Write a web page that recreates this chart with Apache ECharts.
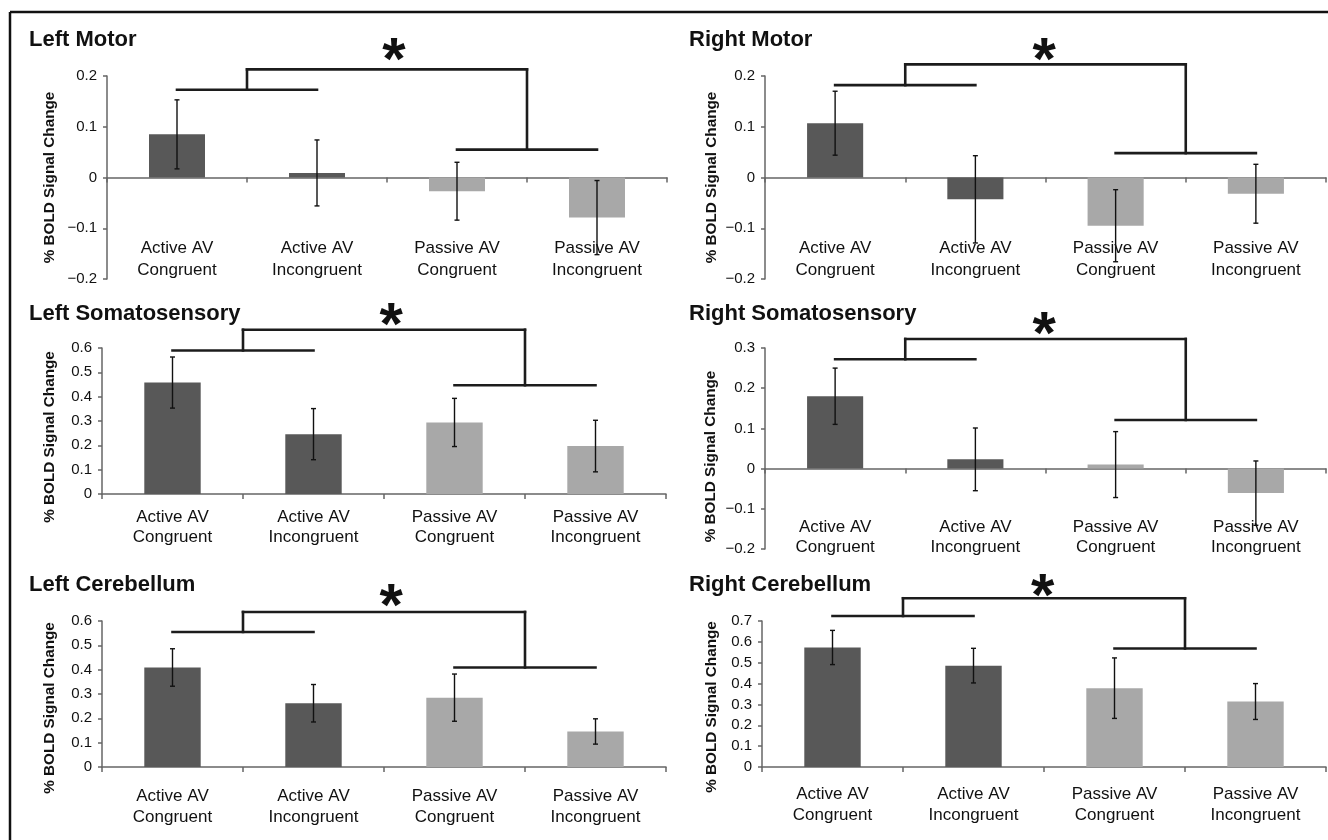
<!DOCTYPE html>
<html>
<head>
<meta charset="utf-8">
<script src="https://cdn.jsdelivr.net/npm/echarts@6/dist/echarts.min.js"></script>
<style>
  html, body { margin: 0; padding: 0; background: #fff; }
  #main { width: 1328px; height: 840px; }
</style>
</head>
<body>
<div id="main"></div>
<script>
// category labels shared by every panel
const categories = ['Active AV\nCongruent', 'Active AV\nIncongruent', 'Passive AV\nCongruent', 'Passive AV\nIncongruent']
const panelTitles = ['Left Motor', 'Right Motor', 'Left Somatosensory', 'Right Somatosensory', 'Left Cerebellum', 'Right Cerebellum']
const yName = '% BOLD Signal Change'

// bar values (% BOLD signal change) and error bar half lengths
const leftMotor = [0.085, 0.009, -0.027, -0.079]
const leftMotorErr = [0.068, 0.065, 0.057, 0.073]
const rightMotor = [0.107, -0.043, -0.095, -0.032]
const rightMotorErr = [0.063, 0.086, 0.071, 0.058]
const leftSomato = [0.458, 0.246, 0.294, 0.197]
const leftSomatoErr = [0.105, 0.105, 0.099, 0.106]
const rightSomato = [0.180, 0.023, 0.010, -0.061]
const rightSomatoErr = [0.070, 0.078, 0.082, 0.080]
const leftCereb = [0.409, 0.262, 0.285, 0.146]
const leftCerebErr = [0.077, 0.077, 0.097, 0.052]
const rightCereb = [0.573, 0.486, 0.378, 0.314]
const rightCerebErr = [0.082, 0.083, 0.145, 0.086]

// significance bracket levels: [active pair, passive pair, joining bar], and star height
const leftMotorBracket = [0.173, 0.055, 0.213]
const rightMotorBracket = [0.182, 0.048, 0.223]
const leftSomatoBracket = [0.590, 0.447, 0.675]
const rightSomatoBracket = [0.272, 0.121, 0.3225]
const leftCerebBracket = [0.555, 0.409, 0.637]
const rightCerebBracket = [0.724, 0.568, 0.809]
const starHeights = [0.253, 0.253, 0.742, 0.364, 0.708, 0.876]

// y axis ranges
const yMin = [-0.2, -0.2, 0, -0.2, 0, 0]
const yMax = [0.2, 0.2, 0.6, 0.3, 0.6, 0.7]
const yStep = [0.1, 0.1, 0.1, 0.1, 0.1, 0.1]

const values = [leftMotor, rightMotor, leftSomato, rightSomato, leftCereb, rightCereb]
const errors = [leftMotorErr, rightMotorErr, leftSomatoErr, rightSomatoErr, leftCerebErr, rightCerebErr]
const brackets = [leftMotorBracket, rightMotorBracket, leftSomatoBracket, rightSomatoBracket, leftCerebBracket, rightCerebBracket]

// page layout for each panel (pixels)
const layout = [
  { left: 107, top: 76, width: 560, height: 203, tx: 29, ty: 29, gap: 50, shift: 0, lm: -42, lh: 22, sx: 1.55 },
  { left: 765, top: 76, width: 561, height: 203, tx: 689, ty: 29, gap: 46, shift: 0, lm: -42, lh: 22, sx: 1.49 },
  { left: 102, top: 348, width: 564, height: 146, tx: 29, ty: 303, gap: 45, shift: 16, lm: 13, lh: 20, sx: 1.55 },
  { left: 765, top: 348, width: 561, height: 201, tx: 689, ty: 303, gap: 47, shift: 8, lm: -32, lh: 20, sx: 1.49 },
  { left: 102, top: 621, width: 564, height: 146, tx: 29, ty: 574, gap: 45, shift: 14, lm: 19, lh: 21, sx: 1.55 },
  { left: 762, top: 621, width: 564, height: 146, tx: 689, ty: 574, gap: 43, shift: 13, lm: 17, lh: 21, sx: 1.49 }
]

const FONT = 'Liberation Sans, Arial, Helvetica, sans-serif'
const DARK = '#585858'
const LIGHT = '#a8a8a8'
const AXIS = '#666666'

function fmtTick (v) {
  if (Math.abs(v) < 1e-9) return '0'
  let s = Math.abs(v).toFixed(1)
  return v < 0 ? '\u2212' + s : s
}

function renderErr (params, api) {
  let x = api.value(0)
  let lo = api.value(1)
  let hi = api.value(2)
  let p1 = api.coord([x, hi])
  let p2 = api.coord([x, lo])
  let cap = 2.5
  let st = { stroke: '#111', lineWidth: 1.4 }
  return {
    type: 'group',
    children: [
      { type: 'line', shape: { x1: p1[0], y1: p1[1], x2: p2[0], y2: p2[1] }, style: st },
      { type: 'line', shape: { x1: p1[0] - cap, y1: p1[1], x2: p1[0] + cap, y2: p1[1] }, style: st },
      { type: 'line', shape: { x1: p2[0] - cap, y1: p2[1], x2: p2[0] + cap, y2: p2[1] }, style: st }
    ]
  }
}

function renderSeg (params, api) {
  let a = api.coord([api.value(0), api.value(1)])
  let b = api.coord([api.value(2), api.value(3)])
  return {
    type: 'line',
    shape: { x1: a[0], y1: a[1], x2: b[0], y2: b[1] },
    style: { stroke: '#1c1c1c', lineWidth: 2.6, lineCap: 'square' }
  }
}

function renderStar (params, api) {
  let p = api.coord([api.value(0), api.value(1)])
  let size = 60
  return {
    type: 'text',
    x: p[0],
    y: p[1] + size * 0.23,
    style: {
      text: '*',
      fontSize: size,
      fontWeight: 'bold',
      fontFamily: FONT,
      fill: '#111',
      align: 'center',
      verticalAlign: 'middle'
    }
  }
}

let myChart = echarts.init(document.getElementById('main'))

let grids = []
let xAxes = []
let yAxes = []
let series = []
let titles = []

for (let i = 0; i < 6; i++) {
  let L = layout[i]
  grids.push({ left: L.left, top: L.top, width: L.width, height: L.height, containLabel: false })
  titles.push({
    text: panelTitles[i],
    left: L.tx,
    top: L.ty,
    padding: 0,
    textStyle: { fontFamily: FONT, fontSize: 22, fontWeight: 'bold', color: '#111' }
  })
  // axis line through zero with boundary ticks
  xAxes.push({
    type: 'category',
    gridIndex: i,
    data: categories,
    position: 'bottom',
    axisLine: { onZero: true, lineStyle: { color: AXIS, width: 1.5 } },
    axisTick: { show: true, length: 5, lineStyle: { color: AXIS, width: 1.5 } },
    axisLabel: { show: false },
    splitLine: { show: false }
  })
  // category labels at the foot of the panel
  xAxes.push({
    type: 'category',
    gridIndex: i,
    data: categories,
    position: 'bottom',
    axisLine: { show: false, onZero: false },
    axisTick: { show: false },
    axisLabel: {
      interval: 0,
      margin: L.lm,
      fontFamily: FONT,
      fontSize: 17,
      lineHeight: L.lh,
      color: '#111'
    },
    splitLine: { show: false }
  })
  // hidden value axis used for brackets and the star
  xAxes.push({
    type: 'value',
    gridIndex: i,
    min: -0.5,
    max: 3.5,
    show: false,
    splitLine: { show: false }
  })
  yAxes.push({
    type: 'value',
    gridIndex: i,
    min: yMin[i],
    max: yMax[i],
    interval: yStep[i],
    name: yName,
    nameLocation: 'middle',
    nameRotate: 90,
    nameGap: L.gap,
    nameTextStyle: {
      fontFamily: FONT,
      fontSize: 15.3,
      fontWeight: 'bold',
      color: '#111',
      padding: [0, L.shift * 2, 0, 0]
    },
    axisLine: { show: true, onZero: false, lineStyle: { color: AXIS, width: 1.5 } },
    axisTick: { show: true, length: 4, lineStyle: { color: AXIS, width: 1.5 } },
    axisLabel: { margin: 10, fontFamily: FONT, fontSize: 15, color: '#111', formatter: fmtTick },
    splitLine: { show: false }
  })

  let barData = values[i].map(function (v, k) {
    return { value: v, itemStyle: { color: k < 2 ? DARK : LIGHT } }
  })
  series.push({
    type: 'bar',
    xAxisIndex: i * 3,
    yAxisIndex: i,
    data: barData,
    barWidth: '40%',
    silent: true
  })

  let errData = values[i].map(function (v, k) {
    return [k, v - errors[i][k], v + errors[i][k]]
  })
  series.push({
    type: 'custom',
    xAxisIndex: i * 3,
    yAxisIndex: i,
    renderItem: renderErr,
    encode: { x: 0, y: [1, 2] },
    data: errData,
    z: 5,
    silent: true
  })

  let b = brackets[i]
  let segs = [
    [0, b[0], 1, b[0]],
    [2, b[1], 3, b[1]],
    [0.5, b[0], 0.5, b[2]],
    [0.5, b[2], 2.5, b[2]],
    [2.5, b[2], 2.5, b[1]]
  ]
  series.push({
    type: 'custom',
    xAxisIndex: i * 3 + 2,
    yAxisIndex: i,
    renderItem: renderSeg,
    encode: { x: [0, 2], y: [1, 3] },
    data: segs,
    clip: false,
    z: 6,
    silent: true
  })
  series.push({
    type: 'custom',
    xAxisIndex: i * 3 + 2,
    yAxisIndex: i,
    renderItem: renderStar,
    encode: { x: 0, y: 1 },
    data: [[L.sx, starHeights[i]]],
    clip: false,
    z: 6,
    silent: true
  })
}

let option = {
  animation: false,
  backgroundColor: '#fff',
  title: titles,
  grid: grids,
  xAxis: xAxes,
  yAxis: yAxes,
  series: series,
  graphic: [
    // figure frame (top and left edges)
    { type: 'line', shape: { x1: 10, y1: 12, x2: 1328, y2: 12 }, style: { stroke: '#111', lineWidth: 2.5 } },
    { type: 'line', shape: { x1: 10, y1: 12, x2: 10, y2: 840 }, style: { stroke: '#111', lineWidth: 2.5 } }
  ]
}
myChart.setOption(option)
</script>
</body>
</html>
